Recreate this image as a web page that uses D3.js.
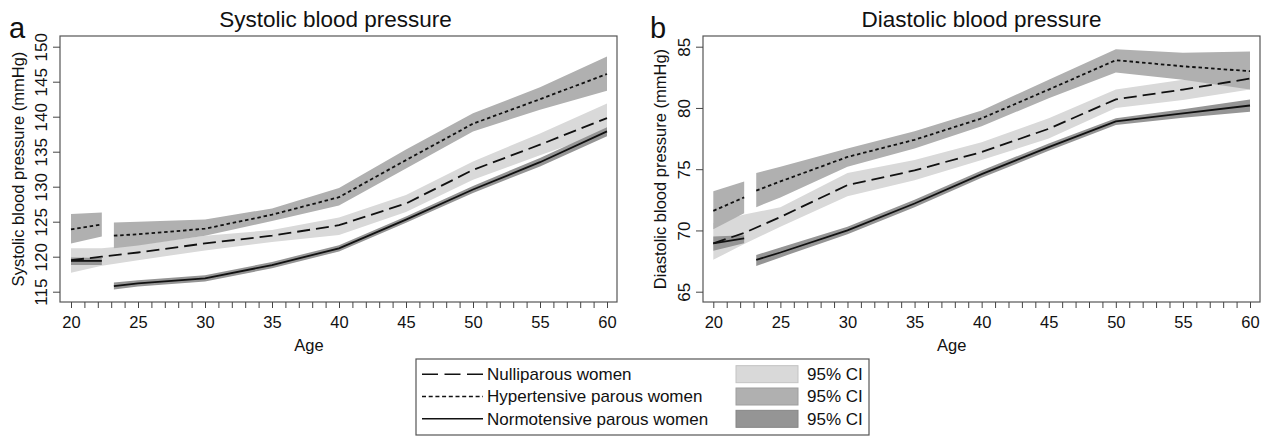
<!DOCTYPE html>
<html>
<head>
<meta charset="utf-8">
<script src="https://cdn.jsdelivr.net/npm/d3@7"></script>
<style>
  body { margin: 0; background: #fff; }
  svg { font-family: "Liberation Sans", Arial, sans-serif; }
</style>
</head>
<body>
<svg id="chart" width="1269" height="436"></svg>
<script>
// ages (segments: early 20-22, late 23-60, nulliparous continuous)
var agesEarly = [20, 22.3];
var agesLate = [23.2, 25, 30, 35, 40, 45, 50, 55, 60];
var agesNulli = [20, 22.3, 25, 30, 35, 40, 45, 50, 55, 60];

// systolic
var nulliSys   = [119.5, 120.0, 120.6, 121.9, 123.0, 124.5, 127.6, 132.4, 136.0, 139.8];
var nulliSysLo = [117.7, 118.7, 119.5, 120.9, 122.1, 123.1, 126.4, 131.0, 134.5, 137.9];
var nulliSysHi = [121.2, 121.2, 121.7, 123.0, 123.8, 125.6, 128.8, 133.6, 137.6, 141.9];

var hyperSysEarly   = [123.9, 124.6];
var hyperSysEarlyLo = [121.9, 122.9];
var hyperSysEarlyHi = [126.1, 126.3];
var hyperSys   = [123.0, 123.2, 124.0, 126.0, 128.5, 133.8, 139.0, 142.5, 146.1];
var hyperSysLo = [121.2, 121.6, 123.0, 125.1, 127.3, 132.6, 137.9, 141.0, 143.7];
var hyperSysHi = [124.9, 125.0, 125.3, 126.9, 129.8, 135.3, 140.5, 144.2, 148.6];

var normoSysEarly   = [119.4, 119.4];
var normoSysEarlyLo = [118.8, 118.8];
var normoSysEarlyHi = [119.9, 119.8];
var normoSys   = [115.8, 116.2, 116.9, 118.8, 121.2, 125.3, 129.6, 133.5, 137.9];
var normoSysLo = [115.3, 115.75, 116.45, 118.35, 120.75, 124.85, 129.1, 132.9, 137.2];
var normoSysHi = [116.3, 116.65, 117.35, 119.25, 121.65, 125.75, 130.1, 134.1, 138.5];

// diastolic
var nulliDia   = [68.95, 69.8, 71.1, 73.7, 74.9, 76.4, 78.3, 80.7, 81.5, 82.4];
var nulliDiaLo = [67.6, 68.9, 70.3, 72.8, 74.1, 75.75, 77.5, 80.0, 80.65, 81.5];
var nulliDiaHi = [70.6, 71.3, 71.9, 74.7, 75.75, 77.2, 79.15, 81.5, 82.3, 83.3];

var hyperDiaEarly   = [71.6, 72.7];
var hyperDiaEarlyLo = [70.1, 71.4];
var hyperDiaEarlyHi = [73.2, 74.0];
var hyperDia   = [73.25, 74.0, 76.0, 77.4, 79.15, 81.5, 83.9, 83.4, 83.0];
var hyperDiaLo = [71.9, 72.7, 75.2, 76.7, 78.5, 80.8, 82.9, 82.3, 81.5];
var hyperDiaHi = [74.7, 75.2, 76.7, 78.1, 79.8, 82.3, 84.8, 84.5, 84.6];

var normoDiaEarly   = [68.95, 69.35];
var normoDiaEarlyLo = [68.35, 68.95];
var normoDiaEarlyHi = [69.5, 69.6];
var normoDia   = [67.6, 68.2, 70.0, 72.2, 74.6, 76.8, 78.9, 79.55, 80.2];
var normoDiaLo = [67.1, 67.8, 69.7, 71.9, 74.3, 76.5, 78.6, 79.2, 79.7];
var normoDiaHi = [68.0, 68.6, 70.3, 72.5, 74.9, 77.1, 79.15, 79.9, 80.7];

var sysTicks = [115, 120, 125, 130, 135, 140, 145, 150];
var diaTicks = [65, 70, 75, 80, 85];
var ageTicks = d3.range(20, 61);

var legendLines = ["Nulliparous women", "Hypertensive parous women", "Normotensive parous women"];
var legendCI = ["95% CI", "95% CI", "95% CI"];

var bandColor = { nulli: "#d9d9d9", hyper: "#b0b0b0", normo: "#959595" };
var dashes = { nulli: "13,6", hyper: "3.5,2.8", normo: null };
var legendDashes = { nulli: "16,6.5", hyper: "4,2.7", normo: null };

var svg = d3.select("#chart");

function zip(ages, v, lo, hi) {
    return ages.map(function(a, i) { return { age: a, v: v[i], lo: lo[i], hi: hi[i] }; });
}

function drawPanel(p) {
    var x = d3.scaleLinear().domain([20, 60]).range([p.x0, p.x1]);
    var y = d3.scaleLinear().domain(p.ydom).range([291.7, 46.7]);
    var g = svg.append("g");

    var area = d3.area().x(function(d) { return x(d.age); })
        .y0(function(d) { return y(d.lo); }).y1(function(d) { return y(d.hi); });
    var line = d3.line().x(function(d) { return x(d.age); }).y(function(d) { return y(d.v); });

    // bands first, then lines
    p.series.forEach(function(s) {
        g.append("path").datum(s.data).attr("d", area)
            .attr("fill", bandColor[s.kind]).attr("stroke", "none");
    });
    p.series.forEach(function(s) {
        g.append("path").datum(s.data).attr("d", line)
            .attr("fill", "none").attr("stroke", "#111")
            .attr("stroke-width", 1.8)
            .attr("stroke-dasharray", dashes[s.kind]);
    });

    // box
    g.append("rect").attr("x", p.bx0).attr("y", 36)
        .attr("width", p.bx1 - p.bx0).attr("height", 302 - 36)
        .attr("fill", "none").attr("stroke", "#555").attr("stroke-width", 1.2);

    // x axis
    var xa = g.append("g").attr("transform", "translate(0,302)")
        .call(d3.axisBottom(x).tickValues(ageTicks).tickSize(6).tickPadding(8)
            .tickFormat(function(d) { return d % 5 === 0 ? d : ""; }));
    xa.select(".domain").remove();
    xa.selectAll("line").attr("stroke", "#444");
    xa.selectAll("text").attr("font-size", 16.5).attr("fill", "#111");

    // y axis
    var ya = g.append("g").attr("transform", "translate(" + p.bx0 + ",0)")
        .call(d3.axisLeft(y).tickValues(p.yticks).tickSize(7).tickPadding(0));
    ya.select(".domain").remove();
    ya.selectAll("line").attr("stroke", "#444");
    ya.selectAll("text").attr("font-size", 17).attr("fill", "#111")
        .attr("text-anchor", "middle").attr("x", 0).attr("dy", 0)
        .attr("transform", "translate(-13,0) rotate(-90)");

    svg.append("text").attr("x", (p.bx0 + p.bx1) / 2 + p.titleShift).attr("y", 27)
        .attr("text-anchor", "middle").attr("font-size", 22.5).attr("fill", "#111").text(p.title);
    svg.append("text").attr("x", p.letterX).attr("y", 38)
        .attr("font-size", 29).attr("fill", "#111").text(p.letter);
    svg.append("text").attr("x", (p.x0 + p.x1) / 2 - 30).attr("y", 351)
        .attr("text-anchor", "middle").attr("font-size", 16.5).attr("fill", "#111").text("Age");
    svg.append("text").attr("transform", "translate(" + p.ylabX + ",169) rotate(-90)")
        .attr("text-anchor", "middle").attr("font-size", 16.5).attr("fill", "#111").text(p.ylab);
}

drawPanel({
    x0: 71, x1: 607, bx0: 60, bx1: 617, ydom: [115, 150], yticks: sysTicks,
    title: "Systolic blood pressure", titleShift: -3, letter: "a", letterX: 9,
    ylab: "Systolic blood pressure  (mmHg)", ylabX: 24,
    series: [
        { kind: "nulli", data: zip(agesNulli, nulliSys, nulliSysLo, nulliSysHi) },
        { kind: "hyper", data: zip(agesEarly, hyperSysEarly, hyperSysEarlyLo, hyperSysEarlyHi) },
        { kind: "hyper", data: zip(agesLate, hyperSys, hyperSysLo, hyperSysHi) },
        { kind: "normo", data: zip(agesEarly, normoSysEarly, normoSysEarlyLo, normoSysEarlyHi) },
        { kind: "normo", data: zip(agesLate, normoSys, normoSysLo, normoSysHi) }
    ]
});

drawPanel({
    x0: 713.3, x1: 1250, bx0: 703, bx1: 1260, ydom: [65, 85], yticks: diaTicks,
    title: "Diastolic blood pressure", titleShift: 0, letter: "b", letterX: 650,
    ylab: "Diastolic blood pressure (mmHg)", ylabX: 666,
    series: [
        { kind: "nulli", data: zip(agesNulli, nulliDia, nulliDiaLo, nulliDiaHi) },
        { kind: "hyper", data: zip(agesEarly, hyperDiaEarly, hyperDiaEarlyLo, hyperDiaEarlyHi) },
        { kind: "hyper", data: zip(agesLate, hyperDia, hyperDiaLo, hyperDiaHi) },
        { kind: "normo", data: zip(agesEarly, normoDiaEarly, normoDiaEarlyLo, normoDiaEarlyHi) },
        { kind: "normo", data: zip(agesLate, normoDia, normoDiaLo, normoDiaHi) }
    ]
});

// legend
var lg = svg.append("g");
lg.append("rect").attr("x", 416).attr("y", 359).attr("width", 453).attr("height", 76)
    .attr("fill", "#fff").attr("stroke", "#555").attr("stroke-width", 1.2);
var kinds = ["nulli", "hyper", "normo"];
var rowY = d3.scaleBand().domain(kinds).range([363, 430]);
kinds.forEach(function(k, i) {
    var cy = rowY(k) + rowY.bandwidth() / 2;
    lg.append("line").attr("x1", 422).attr("x2", 483).attr("y1", cy).attr("y2", cy)
        .attr("stroke", "#111").attr("stroke-width", 1.5).attr("stroke-dasharray", legendDashes[k]);
    lg.append("text").attr("x", 487).attr("y", cy).attr("dy", "0.35em")
        .attr("font-size", 17).attr("fill", "#111").text(legendLines[i]);
    lg.append("rect").attr("x", 736).attr("y", cy - 8.5).attr("width", 62).attr("height", 17)
        .attr("fill", bandColor[k]).attr("stroke", d3.color(bandColor[k]).darker(0.3)).attr("stroke-width", 1);
    lg.append("text").attr("x", 807).attr("y", cy).attr("dy", "0.35em")
        .attr("font-size", 17).attr("fill", "#111").text(legendCI[i]);
});
</script>
</body>
</html>
